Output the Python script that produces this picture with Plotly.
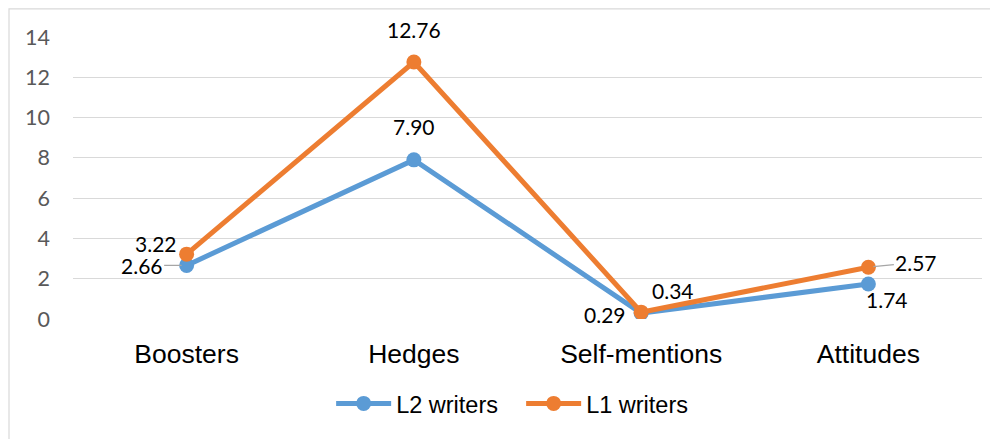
import plotly.graph_objects as go

categories = ['Boosters', 'Hedges', 'Self-mentions', 'Attitudes']
l2_values = [2.66, 7.90, 0.29, 1.74]
l1_values = [3.22, 12.76, 0.34, 2.57]
y_ticks = [0, 2, 4, 6, 8, 10, 12, 14]

BLUE = '#5B9BD5'
ORANGE = '#ED7D31'
NUM_FONT = dict(family='Lato, Noto Sans, sans-serif', size=21, color='#000000')

fig = go.Figure()

fig.add_trace(go.Scatter(
    x=categories, y=l2_values, mode='lines+markers', name='L2 writers',
    line=dict(color=BLUE, width=5), marker=dict(size=15, color=BLUE),
))
fig.add_trace(go.Scatter(
    x=categories, y=l1_values, mode='lines+markers', name='L1 writers',
    line=dict(color=ORANGE, width=5), marker=dict(size=15, color=ORANGE),
))

# data label offsets (px) for each point: (xshift, yshift, leader)
l2_offsets = [(-45, 0, True), (0, 33, False), (-36, -1, False), (19, -16, False)]
l1_offsets = [(-31, 11, False), (0, 32, False), (32, 22, False), (48, 5, True)]

for vals, offs in [(l2_values, l2_offsets), (l1_values, l1_offsets)]:
    for cat, v, (dx, dy, leader) in zip(categories, vals, offs):
        if leader:
            fig.add_annotation(
                x=cat, y=v, text=f'{v:.2f}', font=NUM_FONT,
                showarrow=True, arrowhead=0, arrowwidth=1.2, arrowcolor='#A6A6A6',
                ax=dx, ay=-dy, standoff=5,
            )
        else:
            fig.add_annotation(
                x=cat, y=v, text=f'{v:.2f}', font=NUM_FONT,
                showarrow=False, xshift=dx, yshift=dy,
            )

# chart area border
fig.add_shape(
    type='rect', xref='paper', yref='paper',
    x0=-0.0704, x1=1.03, y0=-0.45, y1=1.1,
    line=dict(color='#D9D9D9', width=1.2), fillcolor='rgba(0,0,0,0)', layer='below',
)

# page body adds 8px margin, so figure is 8px smaller than the window
fig.update_layout(
    width=990, height=431,
    margin=dict(l=65, r=16, t=29, b=120, autoexpand=False),
    paper_bgcolor='white', plot_bgcolor='white',
    showlegend=True,
    legend=dict(
        orientation='h', xanchor='center', x=0.493, yanchor='middle', y=-0.3,
        font=dict(family='Liberation Sans, Arial, sans-serif', size=23.5, color='#000000'),
        itemwidth=55, entrywidth=120,
    ),
    xaxis=dict(
        type='category', range=[-0.5, 3.5], showgrid=False, zeroline=False,
        showline=False, ticks='', ticklabelstandoff=16, automargin=False,
        tickfont=dict(family='Liberation Sans, Arial, sans-serif', size=26.5, color='#000000'),
    ),
    yaxis=dict(
        range=[0, 14], tickvals=y_ticks, showgrid=True, gridcolor='#D9D9D9', gridwidth=1.3,
        zeroline=False, showline=False, ticklabelstandoff=22, automargin=False,
        tickfont=dict(family='Lato, Noto Sans, sans-serif', size=21.5, color='#595959'),
    ),
)

fig.write_html('out.html')
